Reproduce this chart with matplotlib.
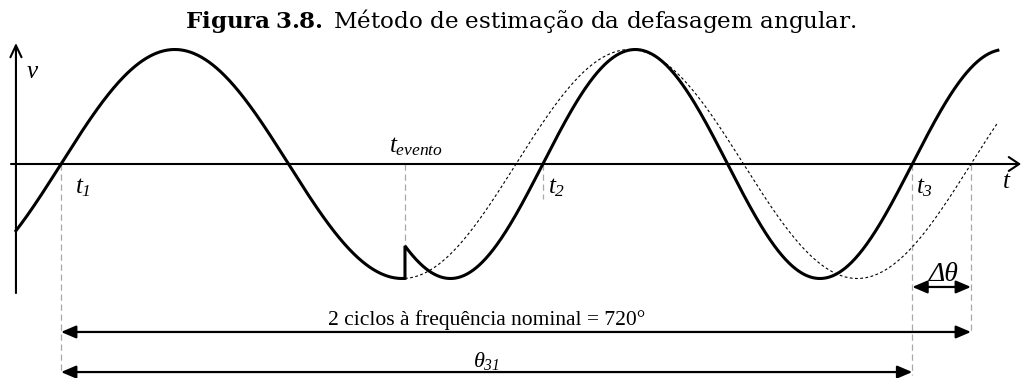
import numpy as np
import matplotlib
matplotlib.use('Agg')
import matplotlib.pyplot as plt

plt.rcParams['mathtext.fontset'] = 'custom'
plt.rcParams['mathtext.rm'] = 'Liberation Serif'
plt.rcParams['mathtext.it'] = 'Liberation Serif:italic'
# italic digits for the subscripts
plt.rcParams['mathtext.sf'] = 'Liberation Serif:italic'
plt.rcParams['mathtext.bf'] = 'DejaVu Serif:bold'

# time in nominal cycles, t1 = 0 is the first rising zero crossing
t_start = -0.099
t_end = 2.059
t_event = 0.756
period_nominal = 1.0
period_after = 0.812
t1 = 0.0
t2 = 1.059
t3 = t2 + period_after
t_ref = t1 + 2 * period_nominal

v_delta_arrow = -1.074
v_cycles_arrow = -1.467
v_theta_arrow = -1.817

cycles_label = '2 ciclos à frequência nominal = 720°'
title_bold = 'Figura 3.8.'
title_rest = 'Método de estimação da defasagem angular.'

fig = plt.figure(figsize=(10.22, 3.78), dpi=100)
ax = fig.add_axes([0, 0, 1, 1])
ax.set_xlim(-61 / 455, 961 / 455)
ax.set_ylim(-214 / 114.5, 164 / 114.5)
ax.axis('off')

# signal before and after the event
ta = np.linspace(t_start, t_event, 400)
tb = np.linspace(t_event, t_end, 800)
va = np.sin(2 * np.pi * ta / period_nominal)
vb = np.sin(2 * np.pi * (tb - t2) / period_after)
ax.plot(np.concatenate([ta, tb]), np.concatenate([va, vb]), color='black', lw=2.2,
        solid_joinstyle='miter', zorder=4)

# nominal-frequency continuation
tc = np.linspace(t_event, t_end, 600)
ax.plot(tc, np.sin(2 * np.pi * tc / period_nominal), color='black', lw=0.8,
        linestyle=(0, (2.5, 2.2)), zorder=3)

# axes with open arrow heads
ax.annotate('', xy=(2.110, 0), xytext=(-0.110, 0),
            arrowprops=dict(arrowstyle='->,head_length=0.75,head_width=0.5', lw=1.5,
                            color='black', shrinkA=0, shrinkB=0, mutation_scale=10))
ax.annotate('', xy=(t_start, 1.057), xytext=(t_start, -1.127),
            arrowprops=dict(arrowstyle='->,head_length=0.85,head_width=0.4', lw=1.5,
                            color='black', shrinkA=0, shrinkB=0, mutation_scale=10))

# guide lines
v_jump = np.sin(2 * np.pi * (t_event - t2) / period_after)
guides = [(t1, v_theta_arrow - 0.015), (t_event, v_jump), (t2, -0.31),
          (t3, v_theta_arrow - 0.025), (t_ref, v_cycles_arrow)]
for tg, vg in guides:
    ax.plot([tg, tg], [0, vg], color='#a8a8a8', lw=0.9, linestyle=(0, (5, 3)), zorder=2)

# dimension arrows
head = '<|-|>,head_length=0.75,head_width=0.32'
for xa, xb, yv in [(t3, t_ref, v_delta_arrow), (t1, t_ref, v_cycles_arrow),
                   (t1, t3, v_theta_arrow)]:
    ax.annotate('', xy=(xb, yv), xytext=(xa, yv),
                arrowprops=dict(arrowstyle=head, lw=1.6, color='black',
                                shrinkA=0, shrinkB=0, mutation_scale=12))

# labels
lab = dict(textcoords='offset points', ha='left', va='baseline', fontsize=18)
ax.annotate('$v$', xy=(t_start, 0), xytext=(7, 62), **lab)
ax.annotate('$t_{\\mathsf{1}}$', xy=(t1, 0), xytext=(10, -21), **lab)
ax.annotate('$t_{\\mathsf{2}}$', xy=(t2, 0), xytext=(3.6, -21), **lab)
ax.annotate('$t_{\\mathsf{3}}$', xy=(t3, 0), xytext=(3, -21), **lab)
ax.annotate('$t_{evento}$', xy=(t_event, 0), xytext=(-11.5, 8.6), **lab)
ax.annotate('$t$', xy=(2.110, 0), xytext=(-14, -17.3), **lab)
ax.text((t3 + t_ref) / 2 + 0.005, v_delta_arrow + 0.055, 'Δθ', family='Liberation Serif',
        style='italic', fontsize=20, ha='center', va='baseline')
ax.text((t1 + t_ref) / 2 - 0.065, v_cycles_arrow + 0.06, cycles_label,
        family='Liberation Serif', fontsize=15.5, ha='center', va='baseline')
ax.text(0.905, v_theta_arrow + 0.045, '$\\theta_{\\mathsf{31}}$', fontsize=16,
        ha='left', va='baseline')

fig.text(521 / 1022, 1 - 28 / 378, '$\\mathbf{' + title_bold.replace(' ', '\\ ') + '}$ ' + title_rest,
         family='DejaVu Serif', fontsize=16.6, ha='center', va='baseline')

fig.savefig('out.png', dpi=100)
